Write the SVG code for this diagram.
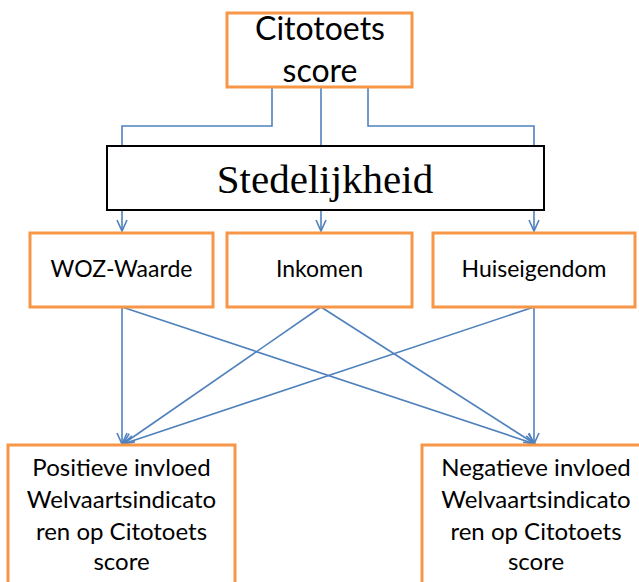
<svg xmlns="http://www.w3.org/2000/svg" width="639" height="582" viewBox="0 0 639 582">
<defs>
<style>
.box{fill:#fff;stroke:#F79646;stroke-width:3}
.blk{fill:#fff;stroke:#000;stroke-width:2}
.ln{fill:none;stroke:#4F81BD;stroke-width:1.6}
.t{font-family:Lato,"Liberation Sans",sans-serif;fill:#000;text-anchor:middle}
.s{font-family:"Liberation Serif","Times New Roman",serif;fill:#000;text-anchor:middle}
</style>
<marker id="ah" markerUnits="userSpaceOnUse" markerWidth="14" markerHeight="14" refX="12" refY="6" orient="auto" viewBox="0 0 14 12">
<path d="M1,1 L12,6 L1,11" fill="none" stroke="#4F81BD" stroke-width="1.6"/>
</marker>
</defs>
<rect width="639" height="582" fill="#fff"/>
<g id="connectors">
<path class="ln" d="M272,87 V126 H122 V231" marker-end="url(#ah)"/>
<path class="ln" d="M321,87 V231" marker-end="url(#ah)"/>
<path class="ln" d="M368,87 V126 H534 V231" marker-end="url(#ah)"/>
<path class="ln" d="M122,307 V444" marker-end="url(#ah)"/>
<path class="ln" d="M122,307 L535,444" marker-end="url(#ah)"/>
<path class="ln" d="M321,307 L123,444" marker-end="url(#ah)"/>
<path class="ln" d="M321,307 L535,444" marker-end="url(#ah)"/>
<path class="ln" d="M534,307 L123,444" marker-end="url(#ah)"/>
<path class="ln" d="M534,307 V444" marker-end="url(#ah)"/>
</g>
<g id="citotoets">
<rect class="box" x="227" y="13" width="185" height="74"/>
<text class="t" x="320" y="40" font-size="32">Citotoets</text>
<text class="t" x="320" y="82" font-size="32">score</text>
</g>
<g id="stedelijkheid">
<rect class="blk" x="107" y="146" width="437" height="64"/>
<text class="s" x="325" y="193" font-size="41">Stedelijkheid</text>
</g>
<g id="woz">
<rect class="box" x="30" y="233" width="183" height="74"/>
<text class="t" x="121.5" y="277" font-size="23">WOZ-Waarde</text>
</g>
<g id="inkomen">
<rect class="box" x="227" y="233" width="185" height="74"/>
<text class="t" x="319.5" y="277" font-size="23">Inkomen</text>
</g>
<g id="huiseigendom">
<rect class="box" x="433" y="233" width="202" height="74"/>
<text class="t" x="534" y="277" font-size="23">Huiseigendom</text>
</g>
<g id="positief">
<rect class="box" x="8" y="445" width="227" height="150"/>
<text class="t" x="121.5" y="476" font-size="24">Positieve invloed</text>
<text class="t" x="121.5" y="508" font-size="24">Welvaartsindicato</text>
<text class="t" x="121.5" y="540" font-size="24">ren op Citotoets</text>
<text class="t" x="121.5" y="570" font-size="24">score</text>
</g>
<g id="negatief">
<rect class="box" x="422" y="445" width="230" height="150"/>
<text class="t" x="536" y="476" font-size="24">Negatieve invloed</text>
<text class="t" x="536" y="508" font-size="24">Welvaartsindicato</text>
<text class="t" x="536" y="540" font-size="24">ren op Citotoets</text>
<text class="t" x="536" y="570" font-size="24">score</text>
</g>
</svg>
